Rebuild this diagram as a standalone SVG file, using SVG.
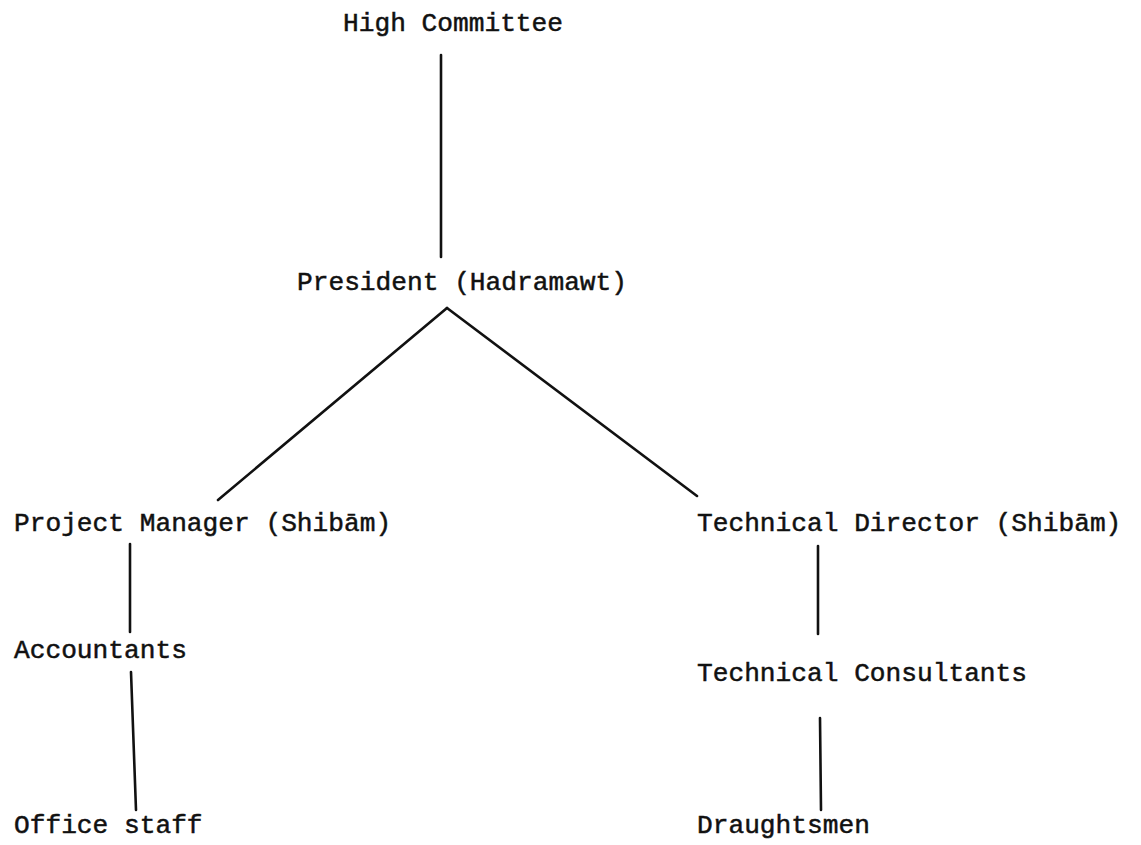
<svg xmlns="http://www.w3.org/2000/svg" width="1141" height="845" viewBox="0 0 1141 845">
<style>
text{font-family:"Liberation Mono","Courier New",monospace;font-size:26.2px;fill:#111;stroke:#111;stroke-width:0.5}
.c line{stroke:#111;stroke-width:2.6;stroke-linecap:round}
</style>
<rect width="1141" height="845" fill="#fff"/>
<g class="c" id="connectors">
<line x1="441" y1="55" x2="441" y2="257"/>
<line x1="447" y1="308" x2="218" y2="500"/>
<line x1="447" y1="308" x2="697" y2="496"/>
<line x1="130" y1="544" x2="130" y2="632"/>
<line x1="131" y1="672" x2="136" y2="810"/>
<line x1="818" y1="546" x2="818" y2="634"/>
<line x1="820" y1="718" x2="821" y2="810"/>
</g>
<g id="high-committee"><text x="343" y="31">High Committee</text></g>
<g id="president"><text x="297" y="290">President (Hadramawt)</text></g>
<g id="project-manager"><text x="14" y="531">Project Manager (Shibām)</text></g>
<g id="technical-director"><text x="697" y="531">Technical Director (Shibām)</text></g>
<g id="accountants"><text x="14" y="658">Accountants</text></g>
<g id="technical-consultants"><text x="697" y="681">Technical Consultants</text></g>
<g id="office-staff"><text x="14" y="833">Office staff</text></g>
<g id="draughtsmen"><text x="697" y="833">Draughtsmen</text></g>
</svg>
